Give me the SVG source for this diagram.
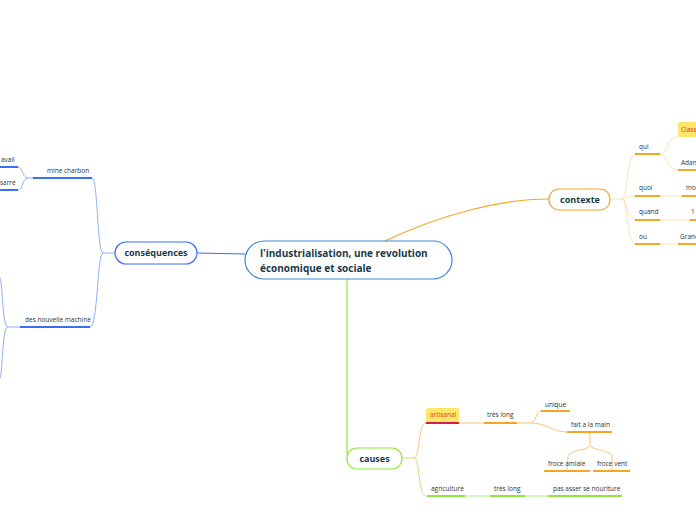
<svg xmlns="http://www.w3.org/2000/svg" width="696" height="520" viewBox="0 0 696 520">
<style>
text{font-family:"Open Sans","Noto Sans",sans-serif;fill:#333}
.s{font-size:6.5px}
.m{font-size:9px;font-weight:bold;fill:#183a4a}
.o{stroke:#f5a623;fill:none}
.ol{stroke:#fde2b6;fill:none}
.b{stroke:#3a6ff0;fill:none}
.bl{stroke:#8fb0f8;fill:none}
.g{stroke:#8ee83a;fill:none}
.gl{stroke:#d8f7bd;fill:none}
</style>
<rect width="696" height="520" fill="#fff"/>
<g id="connectors">
<path class="o" d="M385 241 C440 215 500 199 549 199" stroke-width="1.2"/>
<path class="b" d="M245 254 L197 253" stroke-width="1.2"/>
<path class="g" d="M347 279 L347 450 Q347 458 350 458" stroke-width="1.2"/>
<!-- contexte -->
<g class="ol" stroke-width="1">
<path d="M610 199 L622 199 C628 199 626 154 636 154"/>
<path d="M622 199 C628 199 626 196 636 196"/>
<path d="M622 199 C628 199 626 220 636 220"/>
<path d="M622 199 C628 199 626 244 636 244"/>
<path d="M660 154 C668 154 666 137 678 137"/>
<path d="M660 154 C668 154 666 170 678 170"/>
<path d="M660 196 L682 196 M660 220 L690 220 M660 244 L678 244"/>
</g>
<g class="o" stroke-width="2">
<path d="M635 154H660M635 196H660M635 220H660M635 244H660M678 170H696M682 196H696M690 220H696M678 244H696"/>
</g>
<!-- consequences -->
<g class="bl" stroke-width="1">
<path d="M115 253 L103 253 C97 253 98 178 92 178"/>
<path d="M103 253 C97 253 98 327 90 327"/>
<path d="M33 178 L28 178 C22 178 23 167 18 167"/>
<path d="M28 178 C22 178 23 190 18 190"/>
<path d="M20 327 L8 327 C2 327 3 285 0 278"/>
<path d="M8 327 C2 327 3 370 0 378"/>
</g>
<g class="b" stroke-width="2">
<path d="M33 178H92M20 327H90M0 167H18M0 190H18"/>
</g>
<!-- causes -->
<g class="o" stroke-width="1" opacity="0.6">
<path d="M402 458 L414 458 C420 458 418 423 426 423"/>
<path d="M459 423 L484 423"/>
<path d="M517 423 L530 423 C537 423 535 411 541 411"/>
<path d="M530 423 C548 423 552 432 567 432"/>
<path d="M590 432 L590 445 C590 450 570 450 568 456 L567 471"/>
<path d="M590 445 C590 450 610 450 612 456 L612 471"/>
</g>
<g class="g" stroke-width="1" opacity="0.7">
<path d="M414 458 C420 458 418 496 426 496"/>
</g>
<path class="gl" d="M465 496H490M525 496H548" stroke-width="2"/>
<path d="M426 423H459" stroke="#d0204a" stroke-width="2"/>
<g class="o" stroke-width="2">
<path d="M484 423H517M541 411H570M567 432H612M544 471H590M593 471H630"/>
</g>
<path class="g" d="M427 496H465M490 496H525M548 496H622" stroke-width="2"/>
</g>
<g id="central">
<rect x="245" y="241" width="207" height="38" rx="19" fill="#fff" stroke="#3c8bd8" stroke-width="1.2"/>
<text x="260" y="257" class="m" style="font-size:10px">l'industrialisation, une revolution</text>
<text x="260" y="272" class="m" style="font-size:10px">économique et sociale</text>
</g>
<g id="contexte">
<rect x="549" y="189" width="61" height="21" rx="10" fill="#fff" stroke="#f5a623" stroke-width="1.2"/>
<text x="580" y="202.5" class="m" text-anchor="middle">contexte</text>
</g>
<g id="consequences">
<rect x="115" y="242" width="82" height="22" rx="11" fill="#fff" stroke="#3a6ff0" stroke-width="1.2"/>
<text x="156" y="256" class="m" text-anchor="middle">conséquences</text>
</g>
<g id="causes">
<rect x="347" y="448" width="55" height="21" rx="10" fill="#fff" stroke="#8ee83a" stroke-width="1.2"/>
<text x="374.5" y="461.5" class="m" text-anchor="middle">causes</text>
</g>
<g id="contexte-children">
<text x="639" y="149" class="s">qui</text>
<rect x="678" y="122" width="20" height="15" rx="2" fill="#ffe66b"/>
<text x="681" y="132" class="s" fill="#e0401a" style="fill:#e0401a">Classe</text>
<text x="681" y="165" class="s">Adam</text>
<text x="639" y="190" class="s">quoi</text>
<text x="686" y="190" class="s">mo</text>
<text x="639" y="214" class="s">quand</text>
<text x="691" y="214" class="s">1</text>
<text x="639" y="239" class="s">ou</text>
<text x="680" y="239" class="s">Grand</text>
</g>
<g id="consequences-children">
<text x="47" y="173" class="s">mine charbon</text>
<text x="1" y="162" class="s">avail</text>
<text x="0" y="185" class="s">sarre</text>
<text x="25" y="322" class="s">des nouvelle machine</text>
</g>
<g id="causes-children">
<rect x="426" y="408" width="33" height="14" rx="2" fill="#ffe66b"/>
<text x="430" y="417" class="s" style="fill:#e0401a">artisanal</text>
<text x="487" y="417" class="s">très long</text>
<text x="545" y="407" class="s">unique</text>
<text x="571" y="427" class="s">fait a la main</text>
<text x="548" y="466" class="s">froce amiale</text>
<text x="597" y="466" class="s">froce vent</text>
<text x="431" y="491" class="s">agriculture</text>
<text x="494" y="491" class="s">très long</text>
<text x="553" y="491" class="s">pas asser se nouriture</text>
</g>
</svg>
